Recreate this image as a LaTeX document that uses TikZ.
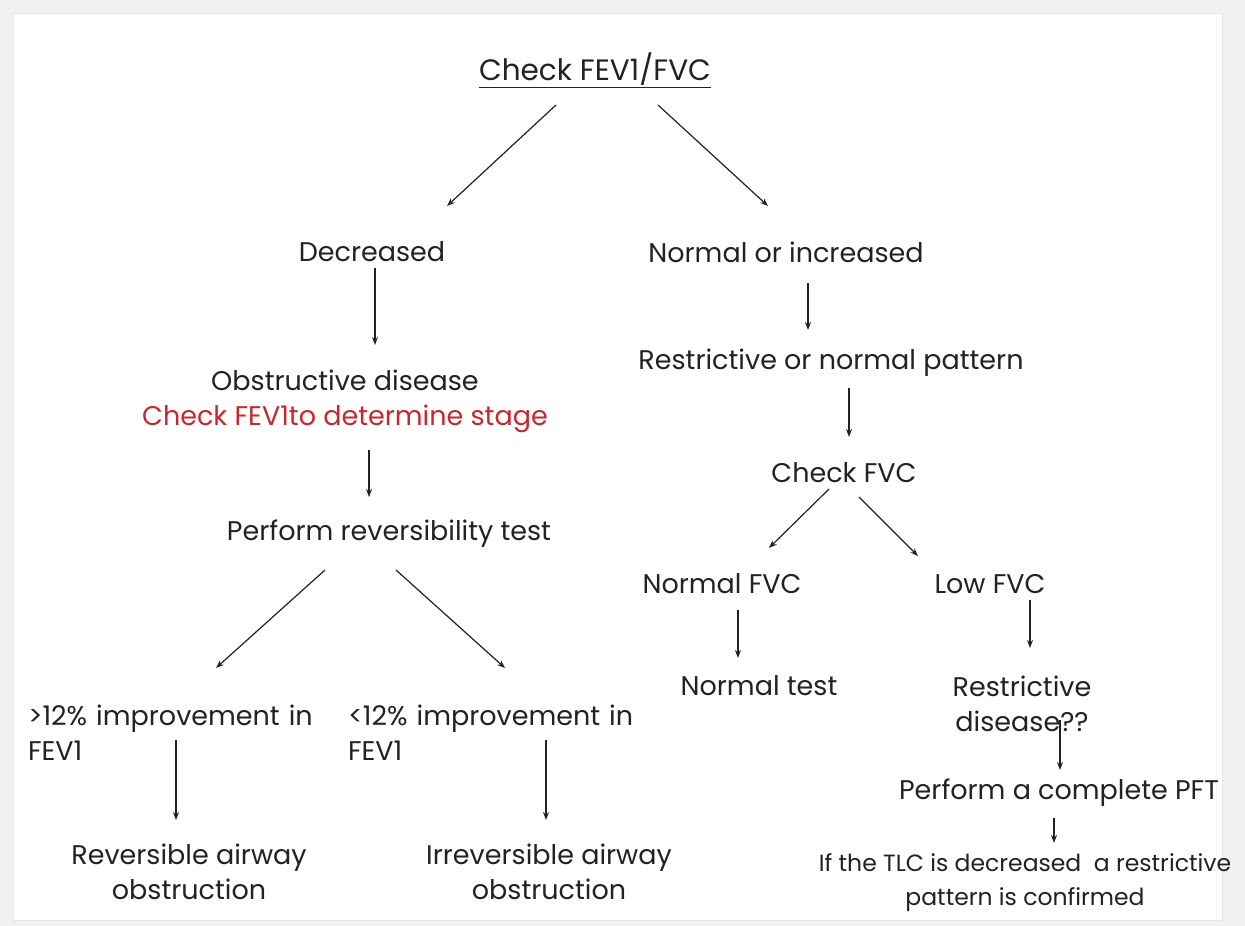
\documentclass[tikz,border=0pt]{standalone}
\usepackage{fontspec}
\setmainfont{Poppins}
\usetikzlibrary{positioning,arrows.meta}
\definecolor{inkgray}{HTML}{222222}
\definecolor{stagered}{HTML}{C8272D}
\definecolor{framegray}{HTML}{F1F1F1}
\tikzset{
  every node/.style={
    text=inkgray,
    inner sep=0pt,
    font=\fontsize{27}{35}\selectfont
  },
  arr/.style={
    draw=inkgray,
    line width=1.2pt,
    -{Stealth[length=8pt,width=6pt]}
  }
}

\begin{document}
\begin{tikzpicture}
        \useasboundingbox (0,0) rectangle (1245pt,-926pt);
        \fill[framegray] (0,0) rectangle (1245pt,-926pt);
        \fill[white, draw=black!10, line width=1pt] (13pt,-13pt) rectangle (1222pt,-920pt);
        \node [font=\fontsize{29.5}{35}\selectfont] (FEVFVC) at (595pt,-70pt) {\underline{Check FEV1/FVC}};
        \node [on grid, below left=182pt and 223pt of FEVFVC] (Dec) {Decreased};
        \node [on grid, below right=182pt and 191pt of FEVFVC] (NormInc) {Normal or increased};
        \node [on grid, below left=149pt and 27pt of Dec, align=center] (Obs) {Obstructive disease\\\textcolor{stagered}{Check FEV1to determine stage}};
        \node [on grid, below right=111pt and 45pt of NormInc] (RestNorm) {Restrictive or normal pattern};
        \node [on grid, below right=110pt and 13pt of RestNorm] (ChkFVC) {Check FVC};
        \node [on grid, below right=133pt and 44pt of Obs] (RevTest) {Perform reversibility test};
        \node [on grid, below left=111pt and 122pt of ChkFVC] (NormFVC) {Normal FVC};
        \node [on grid, below right=111pt and 146pt of ChkFVC] (LowFVC) {Low FVC};
        \node [on grid, below right=102pt and 37pt of NormFVC] (NormTest) {Normal test};
        \node [on grid, below right=120pt and 32pt of LowFVC, align=center] (RestDis) {Restrictive\\disease??};
        \node [on grid, below right=89pt and 37pt of RestDis] (PFT) {Perform a complete PFT};
        \node [on grid, below left=90pt and 34pt of PFT, align=center, font=\fontsize{23.5}{34}\selectfont] (TLC) {If the TLC is decreased\ \ a restrictive\\pattern is confirmed};
        \node [on grid, below left=199pt and 211pt of RevTest, text width=300pt, align=left] (Up12) {>12\% improvement in\\FEV1};
        \node [on grid, below right=199pt and 109pt of RevTest, text width=300pt, align=left] (Low12) {<12\% improvement in\\FEV1};
        \node [on grid, below right=139pt and 11pt of Up12, align=center] (RevObs) {Reversible airway\\obstruction};
        \node [on grid, below right=139pt and 51pt of Low12, align=center] (IrrObs) {Irreversible airway\\obstruction};
        \draw[arr] ([xshift=-39pt,yshift=-35pt]FEVFVC.center) -- ([xshift=75pt,yshift=46pt]Dec.center);
        \draw[arr] ([xshift=63pt,yshift=-35pt]FEVFVC.center) -- ([xshift=-18pt,yshift=46pt]NormInc.center);
        \draw[arr] ([xshift=3pt,yshift=-16pt]Dec.center) -- ([xshift=30pt,yshift=56pt]Obs.center);
        \draw[arr] ([xshift=22pt,yshift=-31pt]NormInc.center) -- ([xshift=-23pt,yshift=33pt]RestNorm.center);
        \draw[arr] ([xshift=18pt,yshift=-25pt]RestNorm.center) -- ([xshift=5pt,yshift=36pt]ChkFVC.center);
        \draw[arr] ([xshift=24pt,yshift=-49pt]Obs.center) -- ([xshift=-20pt,yshift=37pt]RevTest.center);
        \draw[arr] ([xshift=-15pt,yshift=-16pt]ChkFVC.center) -- ([xshift=47pt,yshift=36pt]NormFVC.center);
        \draw[arr] ([xshift=15pt,yshift=-24pt]ChkFVC.center) -- ([xshift=-72pt,yshift=28pt]LowFVC.center);
        \draw[arr] ([xshift=-64pt,yshift=-36pt]RevTest.center) -- ([xshift=38pt,yshift=65pt]Up12.center);
        \draw[arr] ([xshift=7pt,yshift=-36pt]RevTest.center) -- ([xshift=7pt,yshift=65pt]Low12.center);
        \draw[arr] ([xshift=16pt,yshift=-26pt]NormFVC.center) -- ([xshift=-21pt,yshift=28pt]NormTest.center);
        \draw[arr] ([xshift=40pt,yshift=-16pt]LowFVC.center) -- ([xshift=8pt,yshift=56pt]RestDis.center);
        \draw[arr] ([xshift=38pt,yshift=-16pt]RestDis.center) -- ([xshift=1pt,yshift=23pt]PFT.center);
        \draw[arr] ([xshift=-5pt,yshift=-25pt]PFT.center) -- ([xshift=29pt,yshift=40pt]TLC.center);
        \draw[arr] ([xshift=-2pt,yshift=-7pt]Up12.center) -- ([xshift=-13pt,yshift=52pt]RevObs.center);
        \draw[arr] ([xshift=48pt,yshift=-7pt]Low12.center) -- ([xshift=-3pt,yshift=52pt]IrrObs.center);
      \end{tikzpicture}
\end{document}
